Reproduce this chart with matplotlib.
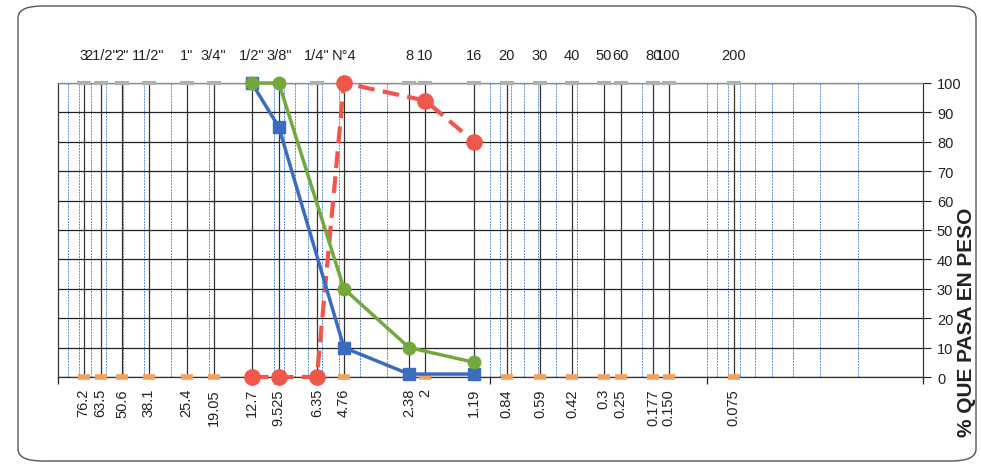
import matplotlib
matplotlib.use("Agg")
import matplotlib.pyplot as plt
import matplotlib.patches as mpatches
from matplotlib.ticker import LogLocator, NullFormatter, MultipleLocator

plt.rcParams["font.family"] = ["Liberation Sans", "DejaVu Sans"]

# sieve openings (mm) and names
sizes = [76.2, 63.5, 50.6, 38.1, 25.4, 19.05, 12.7, 9.525, 6.35, 4.76,
         2.38, 2, 1.19, 0.84, 0.59, 0.42, 0.3, 0.25, 0.177, 0.150, 0.075]
size_labels = ["76.2", "63.5", "50.6", "38.1", "25.4", "19.05", "12.7", "9.525",
               "6.35", "4.76", "2.38", "2", "1.19", "0.84", "0.59", "0.42",
               "0.3", "0.25", "0.177", "0.150", "0.075"]
sieve_names = ["3", "21/2\"", "2\"", "11/2\"", "1\"", "3/4\"", "1/2\"", "3/8\"",
               "1/4\"", "N°4", "8", "10", "16", "20", "30", "40", "50", "60",
               "80", "100", "200"]

# curves (% passing)
blue_x = [12.7, 9.525, 4.76, 2.38, 1.19]
blue_y = [100, 85, 10, 1, 1]
green_x = [12.7, 9.525, 4.76, 2.38, 1.19]
green_y = [100, 100, 30, 10, 5]
red_x = [12.7, 9.525, 6.35, 4.76, 2, 1.19]
red_y = [0, 0, 0, 100, 94, 80]

fig = plt.figure(figsize=(9.81, 4.77), dpi=100)
W, H = 981, 477
ax = fig.add_axes([58 / W, 1 - 378 / H, (923 - 58) / W, (378 - 84) / H])

ax.set_xscale("log")
ax.set_xlim(100, 0.01)
ax.set_ylim(0, 100)

# blue minor log grid
ax.xaxis.set_major_locator(LogLocator(base=10, numticks=10))
ax.xaxis.set_minor_locator(LogLocator(base=10, subs=range(1, 10), numticks=50))
ax.xaxis.set_major_formatter(NullFormatter())
ax.xaxis.set_minor_formatter(NullFormatter())
ax.grid(True, which="both", axis="x", color="#5b8fd0", linewidth=0.7,
        linestyle=(0, (2, 1)))
ax.tick_params(axis="x", which="major", length=5, width=0.9, color="#222")
ax.tick_params(axis="x", which="minor", length=0)

# black lines at every sieve
for s in sizes:
    ax.axvline(s, color="#333333", linewidth=0.9, zorder=1)

# horizontal grid, right axis
ax.yaxis.set_major_locator(MultipleLocator(10))
ax.yaxis.tick_right()
ax.grid(True, which="major", axis="y", color="#222222", linewidth=0.9)
ax.tick_params(axis="y", length=6, width=0.8, labelsize=10.5, pad=4, colors="#222")
for sp in ax.spines.values():
    sp.set_color("#333333")
    sp.set_linewidth(0.9)
ax.spines["top"].set_color("#888888")
ax.set_axisbelow(True)

# sieve markers along top and bottom
ax.plot(sizes, [100] * len(sizes), linestyle="none", marker="_", markersize=10,
        markeredgewidth=3, color="#b0b0b0", clip_on=False, zorder=3)
ax.plot(sizes, [0] * len(sizes), linestyle="none", marker="_", markersize=8,
        markeredgewidth=4, color="#f5a05a", clip_on=False, zorder=3)

# curves
ax.plot(red_x, red_y, color="#f0564a", linewidth=3, linestyle=(0, (4, 2)),
        marker="o", markersize=11, clip_on=False, zorder=4)
ax.plot(blue_x, blue_y, color="#3b6cc0", linewidth=2.5, marker="s",
        markersize=9, clip_on=False, zorder=5)
ax.plot(green_x, green_y, color="#72a83c", linewidth=2.5, marker="o",
        markersize=9, clip_on=False, zorder=6)

# labels: sieve names above, openings below
for s, name, lab in zip(sizes, sieve_names, size_labels):
    ax.annotate(name, (s, 1), xycoords=("data", "axes fraction"),
                xytext=(0, 15), textcoords="offset points", ha="center",
                va="bottom", fontsize=10.5, color="#222")
    ax.annotate(lab, (s, 0), xycoords=("data", "axes fraction"),
                xytext=(0, -8), textcoords="offset points", ha="center",
                va="top", rotation=90, fontsize=10.5, color="#222")

fig.text(966 / W, 1 - 322 / H, "% QUE PASA EN PESO", rotation=90, ha="center",
         va="center", fontsize=15, fontweight="bold", color="#222")

# rounded frame around the chart
frame = mpatches.FancyBboxPatch((18 / W, 15 / H), (976 - 18) / W, (470 - 15) / H,
                                boxstyle="round,pad=0,rounding_size=0.025",
                                transform=fig.transFigure, fill=False,
                                edgecolor="#555555", linewidth=1.0)
fig.patches.append(frame)

fig.savefig("out.png", dpi=100)
